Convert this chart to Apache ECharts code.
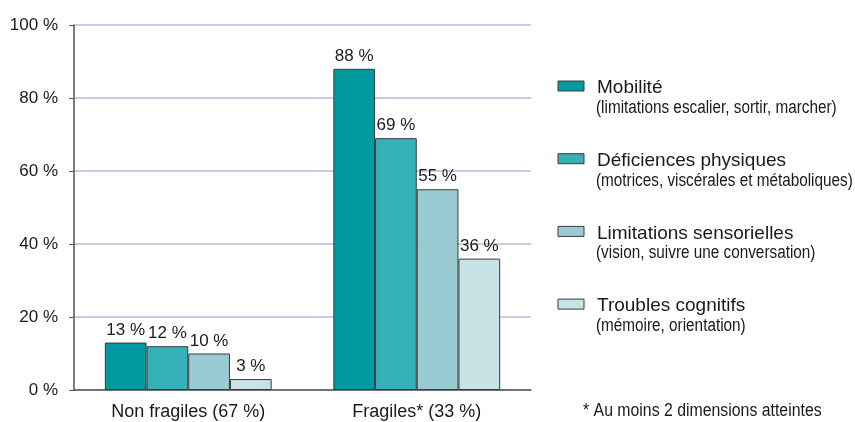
<!DOCTYPE html>
<html>
<head>
<meta charset="utf-8">
<script src="https://cdn.jsdelivr.net/npm/echarts@6/dist/echarts.min.js"></script>
<style>
  html, body { margin: 0; padding: 0; background: #fff; }
  #chart { width: 855px; height: 422px; }
</style>
</head>
<body>
<div id="chart"></div>
<script>
// categories and values
const categories = ['Non fragiles (67 %)', 'Fragiles* (33 %)']
const seriesNames = ['Mobilité', 'Déficiences physiques', 'Limitations sensorielles', 'Troubles cognitifs']
const seriesNotes = [
    '(limitations escalier, sortir, marcher)',
    '(motrices, viscérales et métaboliques)',
    '(vision, suivre une conversation)',
    '(mémoire, orientation)'
]
const mobilite = [13, 88]
const deficiences = [12, 69]
const sensorielles = [10, 55]
const cognitifs = [3, 36]
const yTicks = [0, 20, 40, 60, 80, 100]
const footnote = '* Au moins 2 dimensions atteintes'

const colors = ['#009ba0', '#37b1b8', '#9acbd2', '#c8e3e5']
const values = [mobilite, deficiences, sensorielles, cognitifs]

const mainFont = '"Liberation Sans", Arial, sans-serif'

let chart = echarts.init(document.getElementById('chart'))

// legend drawn by hand: box + name + note on second line (note squeezed to look condensed)
let legendTop = 81
let legendStep = 72.7
let legendGraphics = []
seriesNames.forEach(function (name, i) {
    let y = legendTop + i * legendStep
    legendGraphics.push({
        type: 'rect',
        shape: {x: 558, y: y, width: 26, height: 10},
        style: {fill: colors[i], stroke: '#3a3a3a', lineWidth: 1}
    })
    legendGraphics.push({
        type: 'text',
        x: 597, y: y + 7,
        style: {text: name, font: '19px ' + mainFont, fill: '#1a1a1a', verticalAlign: 'middle'}
    })
    legendGraphics.push({
        type: 'text',
        x: 596, y: y + 27, scaleX: 0.85,
        style: {text: seriesNotes[i], font: '18px ' + mainFont, fill: '#1a1a1a', verticalAlign: 'middle'}
    })
})
legendGraphics.push({
    type: 'text',
    x: 583, y: 411, scaleX: 0.88,
    style: {text: footnote, font: '18px ' + mainFont, fill: '#1a1a1a', verticalAlign: 'middle'}
})

chart.setOption({
    animation: false,
    grid: {left: 74, right: 324, top: 25, bottom: 32},
    xAxis: {
        type: 'category',
        data: categories,
        axisLine: {lineStyle: {color: '#555', width: 1.5}},
        axisTick: {show: false},
        axisLabel: {color: '#1a1a1a', fontSize: 18, fontFamily: mainFont, margin: 13}
    },
    yAxis: {
        type: 'value',
        min: yTicks[0],
        max: yTicks[yTicks.length - 1],
        interval: yTicks[1] - yTicks[0],
        axisLine: {show: true, lineStyle: {color: '#555', width: 1.5}},
        axisTick: {show: true, length: 5, lineStyle: {color: '#555'}},
        splitLine: {lineStyle: {color: '#b9b9dc', width: 1.5}},
        axisLabel: {
            color: '#1a1a1a', fontSize: 17, fontFamily: mainFont, margin: 16,
            formatter: '{value} %'
        }
    },
    series: values.map(function (v, i) {
        return {
            name: seriesNames[i],
            type: 'bar',
            data: v,
            barGap: '0%',
            barCategoryGap: '27%',
            itemStyle: {color: colors[i], borderColor: '#3a3a3a', borderWidth: 1},
            label: {
                show: true, position: 'top', distance: 4,
                formatter: '{c} %',
                color: '#1a1a1a', fontSize: 17, fontFamily: mainFont
            }
        }
    }),
    graphic: legendGraphics
})
</script>
</body>
</html>
